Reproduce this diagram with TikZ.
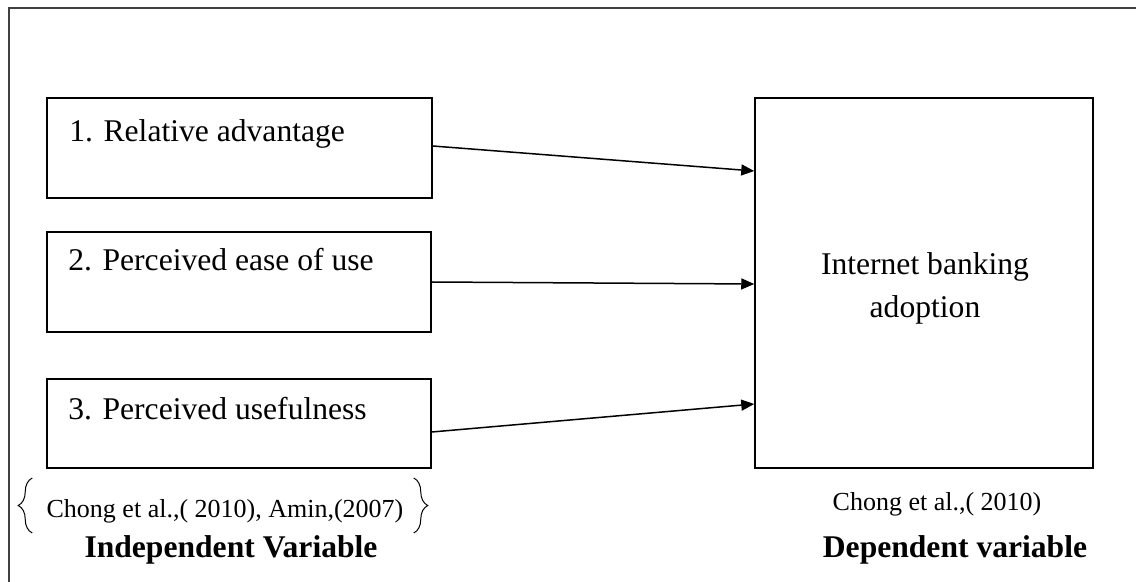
\documentclass[tikz,border=0pt]{standalone}
\usepackage{fontspec}
\setmainfont{Liberation Serif}
\usetikzlibrary{arrows.meta,positioning,calc}
\usetikzlibrary{decorations.pathreplacing}
\tikzset{
        % Variable boxes
        var_box/.style={rectangle, draw=black, line width=0.75pt, inner sep=0pt},
        % Text inside the boxes
        var_text/.style={inner sep=0pt, anchor=base west, font=\fontsize{15.8pt}{21.5pt}\selectfont},
        % Citation lines
        cite_text/.style={inner sep=0pt, anchor=base, font=\fontsize{13pt}{16pt}\selectfont},
        % Bold headings under the columns
        var_title/.style={inner sep=0pt, anchor=base, font=\fontsize{15.8pt}{19pt}\selectfont\bfseries},
        % Curly braces round the citation
        cite_brace/.style={decorate, decoration={brace, amplitude=7pt}, line width=0.5pt}
}
\begin{document}
\begin{tikzpicture}[
            x=0.5pt, y=-0.5pt,
            >={Triangle[length=6.5pt, width=5.5pt]},
            link/.style={->, line width=0.75pt}
        ]
            \clip (0,0) rectangle (1136,582);
            \fill[white] (0,0) rectangle (1136,582);
            % outer frame, cut at right and bottom
            \draw[black!75, line width=1pt] (9,8) rectangle (1160,620);

            % independent variables
            \node[var_box, minimum width=192.5pt, minimum height=50pt] (adv) at (239.5,148) {};
            \node[var_box, minimum width=192pt, minimum height=50pt] (ease) at (239,282) {};
            \node[var_box, minimum width=192pt, minimum height=44.5pt] (useful) at (239,423.5) {};
            \node[var_text] (adv_text) at (69,142) {1. Relative advantage};
            \node[var_text] (ease_text) at (68,271) {2. Perceived ease of use};
            \node[var_text] (useful_text) at (68,420) {3. Perceived usefulness};

            % dependent variable
            \node[var_box, minimum width=169pt, minimum height=185pt] (adoption) at (924,283) {};
            \node[var_text, anchor=center, align=center] (adoption_text) at (925,288) {Internet banking\\adoption};

            % links
            \draw[link] ([yshift=1pt]adv.east) -- ([yshift=56pt]adoption.west);
            \draw[link] (ease.east) -- ([yshift=-0.5pt]adoption.west);
            \draw[link] ([yshift=-4.25pt]useful.east) -- ([yshift=-60.5pt]adoption.west);

            % sources and headings
            \node[cite_text] (indep_cite) at (225,518) {Chong et al.,( 2010), Amin,(2007)};
            \draw[cite_brace] ($(indep_cite.base west)+(-14,15)$) -- ($(indep_cite.base west)+(-14,-40)$);
            \draw[cite_brace] ($(indep_cite.base east)+(10,-40)$) -- ($(indep_cite.base east)+(10,15)$);
            \node[var_title] (indep_title) at (231,558) {Independent Variable};
            \node[cite_text] (dep_cite) at (937,511) {Chong et al.,( 2010)};
            \node[var_title] (dep_title) at (955,558) {Dependent variable};
        \end{tikzpicture}
\end{document}
